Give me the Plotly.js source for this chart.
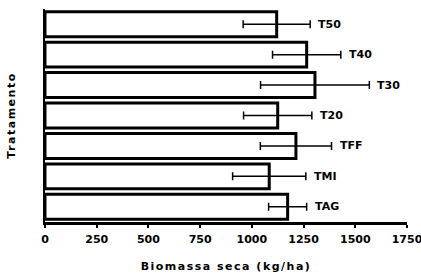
<!DOCTYPE html>
<html>
<head>
<meta charset="utf-8">
<script src="https://cdn.plot.ly/plotly-3.0.1.min.js"></script>
<style>
html,body{margin:0;padding:0;background:#fff;}
#chart{width:421px;height:277px;}
#chart text.xtitle, #chart text.ytitle{letter-spacing:1.5px;}
</style>
</head>
<body>
<div id="chart"></div>
<script>
var categories = ["TAG", "TMI", "TFF", "T20", "T30", "T40", "T50"];
var biomassa = [1173, 1084, 1213, 1125, 1305, 1265, 1120];
var erro = [92, 177, 172, 165, 263, 165, 162];
var xTicks = [0, 250, 500, 750, 1000, 1250, 1500, 1750];

var fontFam = "DejaVu Sans, Arial, sans-serif";

var trace = {
  type: "bar",
  orientation: "h",
  y: categories,
  x: biomassa,
  marker: {color: "#ffffff", line: {color: "#000000", width: 3}},
  error_x: {type: "data", array: erro, visible: true, color: "#000000", thickness: 1.5, width: 4},
  hoverinfo: "none"
};

var annotations = categories.map(function(c, i){
  return {x: biomassa[i] + erro[i], y: c, xref: "x", yref: "y", text: "<b>" + c + "</b>",
    showarrow: false, xanchor: "left", xshift: 6, font: {family: fontFam, size: 11, color: "#000"}};
});

var layout = {
  width: 421, height: 277,
  margin: {l: 45, r: 14, t: 9, b: 55},
  paper_bgcolor: "#fff", plot_bgcolor: "#fff",
  showlegend: false,
  bargap: 0.18,
  xaxis: {
    range: [0, 1750], tickvals: xTicks, ticktext: xTicks.map(String),
    showline: true, linecolor: "#000", linewidth: 2.5, mirror: false,
    ticks: "outside", ticklen: 3, tickwidth: 2, tickcolor: "#000",
    ticklabeloverflow: "allow", ticklabelstandoff: 2,
    showgrid: false, zeroline: false,
    tickfont: {family: fontFam, size: 11, color: "#000", weight: "bold"},
    title: {text: "<b>Biomassa seca (kg/ha)</b>", font: {family: fontFam, size: 11, color: "#000"}, standoff: 18}
  },
  yaxis: {
    showticklabels: false, ticks: "", showline: true, linecolor: "#000", linewidth: 2.5,
    showgrid: false, zeroline: false,
    title: {text: "<b>Tratamento</b>", font: {family: fontFam, size: 11, color: "#000"}, standoff: 25}
  },
  annotations: annotations
};

Plotly.newPlot("chart", [trace], layout, {staticPlot: true, displayModeBar: false});
</script>
</body>
</html>
